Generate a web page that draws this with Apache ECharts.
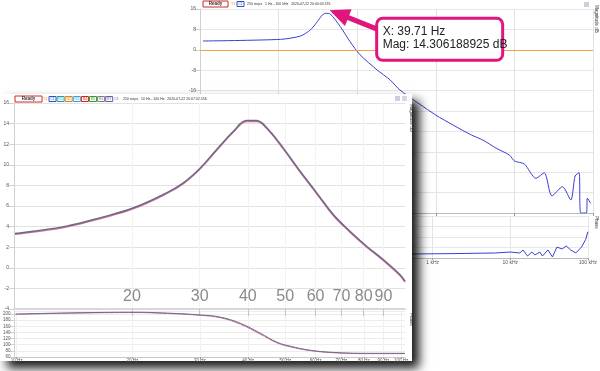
<!DOCTYPE html>
<html><head><meta charset="utf-8">
<script src="https://cdn.jsdelivr.net/npm/echarts@6/dist/echarts.min.js"></script>
<style>html,body{margin:0;padding:0;background:#fff}#c{width:600px;height:371px}</style>
</head><body><div id="c"></div>
<script>
// ---------- data ----------
// back window: 1 Hz - 100 kHz sweep
const backMagFreq = [1.09, 10.6, 19, 25.4, 31, 35.8, 39.71, 45.6, 61, 81, 109, 179, 262, 350, 1000, 1657, 2830, 3980, 5870, 8650, 10000, 13400, 18800, 24000, 30000, 40900, 52200, 59200, 66500, 69800, 82400, 84800, 93400];
const backMag = [3.45, 4.1, 5.4, 7.8, 11.0, 13.6, 14.31, 14.0, 9.1, 3.2, -2.0, -7.9, -11.8, -15.8, -25.6, -29.5, -33.4, -35.4, -38.6, -41.3, -43.6, -44.8, -50.4, -48.2, -57.3, -53.7, -58.9, -49.5, -48.2, -64, -64, -58.2, -60.2];
const backPhaseFreq = [450, 2000, 6450, 10000, 13300, 14600, 16700, 19000, 20800, 24000, 26000, 30600, 35000, 40000, 46500, 52700, 60000, 70000, 83000, 94000, 100000];
const backPhase = [-146, -142, -137, -129, -137, -111, -163, -129, -154, -129, -163, -111, -171, -86, -103, -77, -111, -137, -86, -20, 45];
const backTarget = [0];            // orange T1 line, dB
// front window: 10 Hz - 100 Hz sweep
const frontMagFreq = [9.94, 11.1, 13.5, 16.5, 20.2, 24.6, 27.2, 30.1, 33.2, 36.7, 39.7, 42.2, 44.8, 49.4, 54.7, 60.4, 66.7, 73.7, 81.4, 89.9, 99.3, 102.4];
const frontMagA = [3.33, 3.55, 4.04, 4.85, 5.83, 7.28, 8.25, 9.7, 11.49, 13.26, 14.31, 14.3, 13.6, 11.65, 9.38, 7.28, 5.17, 3.55, 2.1, 0.8, -0.65, -1.3];
const frontMagB = [3.25, 3.47, 3.96, 4.77, 5.75, 7.2, 8.17, 9.62, 11.41, 13.18, 14.22, 14.21, 13.52, 11.57, 9.3, 7.2, 5.09, 3.47, 2.02, 0.72, -0.73, -1.38];
const frontPhaseFreq = [9.94, 20.1, 24.7, 30.1, 33.9, 38.2, 43.0, 47.6, 51.6, 58.0, 66.6, 81.4, 102.4];
const frontPhaseA = [200, 206, 203, 197, 190, 170, 138, 108, 95, 82, 75, 72, 72];
const frontPhaseB = [199, 205, 202, 196, 188, 167, 135, 106, 93, 81, 74, 71, 71];
// ticks / labels
const backDecades = [1, 10, 100, 1000, 10000, 100000];
const frontOverlayTicks = [20, 30, 40, 50, 60, 70, 80, 90];
const frontBottomTicks = [10, 20, 30, 40, 50, 60, 70, 80, 90, 100];
const frontChannels = [['C1', '#3050c0'], ['R1', '#20a0a0'], ['R2', '#e08020'], ['R3', '#40a0e0'], ['R4', '#d02020'], ['R5', '#30a030'], ['R6', '#808080'], ['R7', '#6060a0']];
const frontInfo = '250 steps   10 Hz - 100 Hz   2020-07-22 20:07:02.556';
const backInfo = '250 steps   1 Hz - 100 kHz   2020-07-22 20:04:03.576';
const peakMarker = { freq: 39.71, mag: 14.306188925 };

// ---------- build ----------
const L = Math.log10;
const pairs = (fs, vs) => fs.map((f, i) => [L(f), vs[i]]);
const FONT = 'Liberation Sans';
const hzLabel = v => { const f = Math.round(Math.pow(10, v)); return f >= 1000 ? (f / 1000) + ' kHz' : f + ' Hz'; };
const small = { fontSize: 5, color: '#555', fontFamily: FONT };

const chart = echarts.init(document.getElementById('c'), null, { renderer: 'canvas' });

const grids = [
  { left: 200, top: 9, width: 393, height: 204 },   // back mag
  { left: 200, top: 216, width: 393, height: 42 },  // back phase
  { left: 14, top: 103, width: 391, height: 206 },  // front mag
  { left: 14, top: 311, width: 391, height: 46 }    // front phase
];

const xAxes = [
  { type: 'value', gridIndex: 0, min: L(1), max: L(100000), axisLabel: { show: false },
    axisLine: { onZero: false, lineStyle: { color: '#b8b8b8' } },
    axisTick: { customValues: backDecades.map(L), length: 3, lineStyle: { color: '#999' } },
    splitLine: { show: true, lineStyle: { color: '#e2e2e2' } } },
  { type: 'value', gridIndex: 1, min: L(1), max: L(100000),
    axisLabel: { customValues: backDecades.map(L), formatter: hzLabel, ...small, margin: 2 },
    axisLine: { onZero: false, lineStyle: { color: '#b8b8b8' } },
    axisTick: { customValues: backDecades.map(L), length: 2, lineStyle: { color: '#999' } },
    splitLine: { show: true, lineStyle: { color: '#e6e6e6' } } },
  { type: 'value', gridIndex: 2, z: 10, min: L(9.88), max: L(102.4),
    axisLabel: { customValues: frontOverlayTicks.map(L), inside: true, margin: 4,
      formatter: v => String(Math.round(Math.pow(10, v))), fontSize: 16, color: '#8a8a8a', fontFamily: FONT },
    axisLine: { onZero: false, lineStyle: { color: '#d8d8d8', width: 2 } },
    axisTick: { customValues: frontOverlayTicks.map(L), inside: false, length: 7, lineStyle: { color: '#c4c4c4' } },
    splitLine: { show: true, lineStyle: { color: '#f3f3f3' } } },
  { type: 'value', gridIndex: 3, z: 10, min: L(9.88), max: L(102.4),
    axisLabel: { customValues: frontBottomTicks.map(L), formatter: hzLabel, ...small, fontSize: 4.5, margin: 1 },
    axisLine: { onZero: false, lineStyle: { color: '#c8c8c8' } },
    axisTick: { customValues: frontBottomTicks.map(L), length: 2, lineStyle: { color: '#aaa' } },
    splitLine: { show: true, lineStyle: { color: '#f0f0f0' } } }
];

const yAxes = [
  { type: 'value', gridIndex: 0, min: -64, max: 16, interval: 8,
    axisLabel: { ...small, margin: 4 }, axisLine: { show: true, onZero: false, lineStyle: { color: '#d0d0d0' } },
    splitLine: { lineStyle: { color: '#e6e6e6' } } },
  { type: 'value', gridIndex: 1, min: -180, max: 180, interval: 90,
    axisLabel: { ...small, margin: 4 }, axisLine: { show: true, onZero: false, lineStyle: { color: '#d0d0d0' } },
    splitLine: { lineStyle: { color: '#e8e8e8' } } },
  { type: 'value', gridIndex: 2, z: 10, min: -4, max: 16, interval: 2,
    axisLabel: { ...small, margin: 5 }, axisLine: { show: true, onZero: false, lineStyle: { color: '#d0d0d0' } },
    splitLine: { lineStyle: { color: '#e2e2e2' } } },
  { type: 'value', gridIndex: 3, z: 10, min: 60, max: 210, interval: 20,
    axisLabel: { ...small, fontSize: 4.5, margin: 4, showMaxLabel: false }, axisLine: { show: true, onZero: false, lineStyle: { color: '#d0d0d0' } },
    splitLine: { lineStyle: { color: '#ececec' } } }
];

const line = (name, xi, data, color, w, z, smooth) => ({
  name, type: 'line', xAxisIndex: xi, yAxisIndex: xi, data, symbol: 'none', smooth,
  z, lineStyle: { color, width: w }, silent: true
});

const series = [
  Object.assign(line('C1', 0, pairs(backMagFreq, backMag), '#3b3fcf', 1, 2, 0.25), {
    markLine: { silent: true, symbol: 'none', label: { show: false },
      lineStyle: { color: '#f2a23c', width: 1, type: 'solid' },
      data: backTarget.map(v => ({ yAxis: v })) } }),
  line('C1 phase', 1, pairs(backPhaseFreq, backPhase), '#3b3fcf', 1, 2, false),
  line('R4', 2, pairs(frontMagFreq, frontMagB), '#d0709a', 1.6, 12, 0.4),
  line('C1f', 2, pairs(frontMagFreq, frontMagA), '#6a6a86', 1.4, 13, 0.4),
  line('R4p', 3, pairs(frontPhaseFreq, frontPhaseB), '#d0709a', 1, 12, 0.4),
  line('C1p', 3, pairs(frontPhaseFreq, frontPhaseA), '#6a6a86', 1, 13, 0.4)
];

// window chrome
const txt = (x, y, text, o) => ({ type: 'text', x, y, z: o && o.z || 15, rotation: o && o.rot || 0,
  style: { text, fill: o && o.color || '#333', fontSize: o && o.size || 3.5, fontFamily: FONT,
    fontWeight: o && o.bold ? 'bold' : 'normal', textAlign: o && o.align || 'left', textVerticalAlign: 'middle' } });
const box = (x, y, w, h, stroke, z) => ({ type: 'rect', z, shape: { x, y, width: w, height: h }, style: { fill: '#fff', stroke, lineWidth: 1 } });

const chrome = [
  // back window title bar
  box(203, 1, 25, 6, '#d02828', 3), txt(215.5, 4, 'Ready', { bold: true, size: 4.5, align: 'center', z: 4 }),
  txt(231, 4, 'T1', { color: '#e08a00', z: 4 }),
  box(237, 1.5, 7, 5, '#3050c0', 3), txt(240.5, 4, 'C1', { color: '#3050c0', align: 'center', z: 4 }),
  txt(247, 4, backInfo, { z: 4 }),
  { type: 'rect', z: 3, shape: { x: 584, y: 2, width: 5, height: 5 }, style: { fill: '#c8d0dc' } },
  txt(596, 5, 'Magnitude dB', { rot: -Math.PI / 2, size: 4.5, z: 4 }),
  txt(596, 216, 'Phase', { rot: -Math.PI / 2, size: 4.5, z: 4 }),
  // front window
  { type: 'rect', z: 5, shape: { x: 0, y: 94, width: 412, height: 267 },
    style: { fill: '#fff', shadowBlur: 10, shadowOffsetX: 7, shadowOffsetY: 7, shadowColor: 'rgba(0,0,0,0.92)' } },
  box(15, 96, 27, 6, '#d02828', 15), txt(28.5, 99, 'Ready', { bold: true, size: 4.5, align: 'center', z: 16 }),
  txt(43, 99, 'T1', { color: '#e08a00' }),
  ...frontChannels.flatMap((c, i) => [box(49 + i * 8.1, 96.5, 7, 5, c[1], 15), txt(52.5 + i * 8.1, 99, c[0], { color: c[1], align: 'center', z: 16 })]),
  txt(114, 99, 'C8', { color: '#888' }),
  txt(123, 99, frontInfo),
  { type: 'rect', z: 15, shape: { x: 395, y: 96, width: 5, height: 5 }, style: { fill: '#c8d0dc' } },
  { type: 'rect', z: 15, shape: { x: 402, y: 96, width: 5, height: 5 }, style: { fill: '#d4d8e0' } },
  txt(411, 104, 'Magnitude dB', { rot: -Math.PI / 2, size: 4.5 }),
  txt(411, 313, 'Phase', { rot: -Math.PI / 2, size: 4.5 })
];

chart.setOption({
  animation: false,
  backgroundColor: '#fff',
  textStyle: { fontFamily: FONT },
  grid: grids, xAxis: xAxes, yAxis: yAxes, series,
  graphic: { elements: chrome }
});

// annotation anchored to the peak through the back grid's scales
const p = chart.convertToPixel({ gridIndex: 0 }, [L(peakMarker.freq), peakMarker.mag]);
const MAG = '#e0167c';
const tip = [p[0] + 4, p[1] - 3];
const bx = p[0] + 51, by = p[1] + 5, bw = 126, bh = 42;
const tail = [bx + 1, by + 11];
const dx = tail[0] - tip[0], dy = tail[1] - tip[1], len = Math.hypot(dx, dy);
const ux = dx / len, uy = dy / len, nx = -uy, ny = ux;
const base = [tip[0] + ux * 20, tip[1] + uy * 20];
const annot = [
  { type: 'line', z: 30, shape: { x1: base[0] - ux * 2, y1: base[1] - uy * 2, x2: tail[0], y2: tail[1] }, style: { stroke: MAG, lineWidth: 5 } },
  { type: 'polygon', z: 30, shape: { points: [tip, [base[0] + nx * 9, base[1] + ny * 9], [base[0] - nx * 9, base[1] - ny * 9]] }, style: { fill: MAG } },
  { type: 'rect', z: 31, shape: { x: bx, y: by, width: bw, height: bh, r: 6 }, style: { fill: '#fff', stroke: MAG, lineWidth: 3 } },
  { type: 'text', z: 32, x: bx + 6, y: by + 7,
    style: { text: 'X: ' + peakMarker.freq + ' Hz\nMag: ' + peakMarker.mag + ' dB', fill: '#222', fontSize: 12, lineHeight: 13, fontFamily: FONT, textAlign: 'left', textVerticalAlign: 'top' } }
];
chart.setOption({ graphic: { elements: chrome.concat(annot) } });
</script>
</body></html>
